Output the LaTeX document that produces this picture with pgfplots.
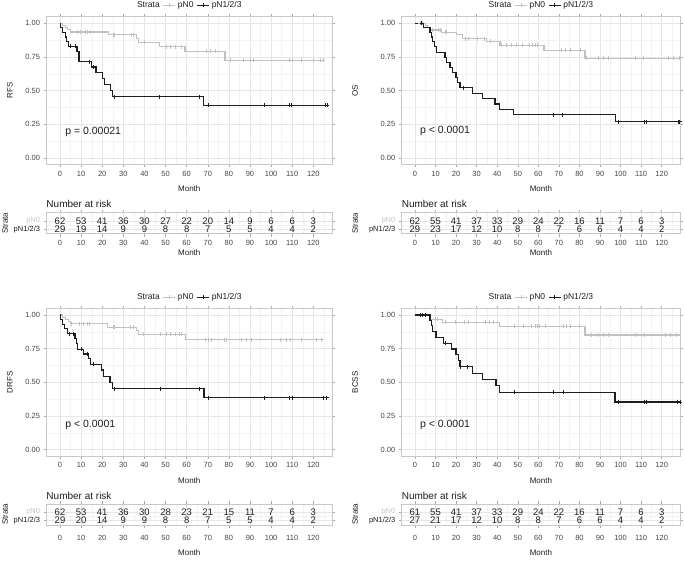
\documentclass[border=0pt]{standalone}
\usepackage{fontspec}
\setmainfont{Liberation Sans}
\usepackage{pgfplots}
\pgfplotsset{compat=1.18}

\definecolor{lg}{RGB}{193,193,193}
\definecolor{lgt}{RGB}{200,200,200}
\definecolor{dk}{RGB}{30,30,30}
\definecolor{frm}{RGB}{200,200,200}
\definecolor{tkc}{RGB}{170,170,170}
\definecolor{tkt}{RGB}{70,70,70}
\definecolor{gmaj}{RGB}{230,230,230}
\definecolor{gmin}{RGB}{243,243,243}

\newcommand\tickf{\fontsize{7.5}{9}\selectfont}
\newcommand\labf{\fontsize{8}{9.6}\selectfont}
\newcommand\legf{\fontsize{8.5}{10}\selectfont}
\newcommand\tabf{\fontsize{9.5}{11}\selectfont}
\newcommand\pf{\fontsize{10.5}{12}\selectfont}

\pgfplotsset{
  base/.style={
    scale only axis, xmin=-6.5, xmax=129, clip=false,
    axis line style={draw=frm, line width=0.6pt},
    tick style={draw=tkc, line width=0.5pt},
    tick align=outside, major tick length=2.75pt, minor tick length=0pt,
    xtick={0,10,...,120},
    xticklabels={0,10,20,30,40,50,60,70,80,90,100,110,120},
    minor xtick={5,15,...,125},
    grid=both,
    major grid style={draw=gmaj, line width=0.5pt},
    minor grid style={draw=gmin, line width=0.3pt},
    ticklabel style={font=\tickf, text=tkt},
    /pgf/number format/assume math mode=true,
    xlabel=Month,
    xlabel style={font=\labf, text=dk, at={(axis description cs:0.5,0)}, anchor=center},
    ylabel style={font=\labf, text=dk, anchor=center},
  },
  km/.style={base, height=148pt,
    ymin=-0.05, ymax=1.05,
    ytick={0,0.25,0.5,0.75,1}, yticklabels={0.00,0.25,0.50,0.75,1.00},
    minor ytick={0.125,0.375,0.625,0.875},
    xlabel style={yshift=-24.5pt},
    legend style={draw=none, fill=none, at={(0.5,1)}, anchor=south, yshift=5pt,
      legend columns=-1, font=\legf, text=dk, inner sep=0pt,
      /tikz/every even column/.append style={column sep=1pt}},
    legend image code/.code={\draw[mark repeat=2,mark phase=2,##1]
      plot coordinates {(0pt,0pt) (6pt,0pt) (12pt,0pt)};},
  },
  rt/.style={base, height=21pt,
    ymin=0.45, ymax=3.0, ytick={1,2}, minor ytick={1.5},
    yticklabels={\textcolor{dk}{pN1/2/3},\textcolor{lgt}{pN0}},
    xlabel style={yshift=-18.5pt},
    ylabel=Strata,
    every axis title shift=0pt,
    title=Number at risk,
    title style={at={(axis description cs:0,1)}, anchor=base west, inner sep=0pt,
      yshift=4.8pt, font=\fontsize{10}{12}\selectfont, text=dk},
  },
  % shifts add up with those of rt
  rtlow/.style={xticklabel style={yshift=-4pt}, xlabel style={yshift=-9.5pt}},
  lgl/.style={draw=lg, line width=1.2pt},
  dkl/.style={draw=dk, line width=1.2pt},
  cen/.style={only marks, mark=+, mark size=2pt, mark options={line width=0.8pt}},
  num/.style={draw=none, forget plot, nodes near coords, point meta=explicit symbolic,
    every node near coord/.append style={anchor=center, font=\tabf, text=dk, inner sep=0pt}},
}

\begin{document}
\begin{tikzpicture}
\path[use as bounding box] (0,0) rectangle (685pt,-561pt);

% ---------------- RFS ----------------
\begin{axis}[km, at={(46.3pt,-16.5pt)}, anchor=north west, width=286pt,
  ylabel=RFS, ylabel style={at={(axis description cs:-0.127,0.5)}}]
\addlegendimage{empty legend}
\addlegendimage{lgl, mark=+, mark size=2pt, mark options={line width=0.8pt}}
\addlegendimage{dkl, mark=+, mark size=2pt, mark options={line width=0.8pt}}
\legend{Strata,pN0,pN1/2/3}
\addplot[lgl, const plot, forget plot] coordinates {(0,1) (1,0.984) (2.5,0.968) (3.5,0.952) (5,0.935) (22.9,0.914) (36.3,0.888) (37.1,0.858) (47,0.826) (59.2,0.79) (78.2,0.725) (125,0.725)};
\addplot[lgl, cen, forget plot] coordinates {(8,0.935) (9.5,0.935) (11.8,0.935) (12.9,0.935) (14.2,0.935) (25.3,0.914) (26,0.914) (33.9,0.914) (35,0.914) (40,0.858) (50.5,0.826) (52.4,0.826) (54.5,0.826) (57.7,0.826) (69.5,0.79) (71.4,0.79) (73.4,0.79) (80.5,0.725) (86.9,0.725) (90,0.725) (91.6,0.725) (108.9,0.725) (110.2,0.725) (114.5,0.725) (120,0.725) (123.2,0.725) (124.7,0.725)};
\addplot[dkl, const plot, forget plot] coordinates {(0,1) (0.4,0.966) (1,0.931) (2.5,0.897) (3,0.862) (4,0.828) (8,0.79) (9,0.715) (15,0.675) (17,0.634) (20,0.591) (21,0.545) (24,0.5) (25,0.454) (68,0.389) (127.5,0.389)};
\addplot[dkl, cen, forget plot] coordinates {(5,0.828) (7.5,0.828) (14,0.715) (16,0.675) (25.6,0.454) (47.2,0.454) (65.8,0.454) (70.3,0.389) (96.8,0.389) (108.6,0.389) (109.7,0.389) (125.5,0.389) (126.5,0.389)};
\node[font=\pf, text=dk, anchor=west, inner sep=0pt] at (axis cs:2.4,0.19) {p = 0.00021};
\end{axis}

\begin{axis}[rt, at={(46.3pt,-212.8pt)}, anchor=north west, width=286pt,
  ylabel style={at={(axis description cs:-0.144,0.5)}}]
\addplot[num] coordinates {(0,2)[62] (10,2)[53] (20,2)[41] (30,2)[36] (40,2)[30] (50,2)[27] (60,2)[22] (70,2)[20] (80,2)[14] (90,2)[9] (100,2)[6] (110,2)[6] (120,2)[3]};
\addplot[num] coordinates {(0,1)[29] (10,1)[19] (20,1)[14] (30,1)[9] (40,1)[9] (50,1)[8] (60,1)[8] (70,1)[7] (80,1)[5] (90,1)[5] (100,1)[4] (110,1)[4] (120,1)[2]};
\end{axis}

% ---------------- OS ----------------
\begin{axis}[km, at={(401.6pt,-16.5pt)}, anchor=north west, width=278.6pt,
  ylabel=OS, ylabel style={at={(axis description cs:-0.167,0.5)}}]
\addlegendimage{empty legend}
\addlegendimage{lgl, mark=+, mark size=2pt, mark options={line width=0.8pt}}
\addlegendimage{dkl, mark=+, mark size=2pt, mark options={line width=0.8pt}}
\legend{Strata,pN0,pN1/2/3}
\addplot[lgl, const plot, forget plot] coordinates {(0,1) (5,0.984) (6,0.967) (7.3,0.95) (13,0.934) (20.3,0.918) (23.2,0.886) (34.9,0.866) (41.4,0.837) (62.8,0.80) (82.7,0.74) (129,0.74)};
\addplot[lgl, cen, forget plot] coordinates {(2.4,1) (3.7,1) (8.6,0.95) (11.4,0.95) (12.2,0.95) (15,0.934) (15.5,0.934) (24.3,0.886) (26,0.886) (30.3,0.886) (33.6,0.886) (36.8,0.866) (42.2,0.837) (44.6,0.837) (47,0.837) (49.4,0.837) (52.4,0.837) (55.6,0.837) (57.3,0.837) (58.4,0.837) (59.5,0.837) (71.4,0.80) (73,0.80) (75.4,0.80) (80.3,0.80) (83.5,0.74) (89.2,0.74) (91.6,0.74) (94,0.74) (107,0.74) (111,0.74) (123.2,0.74) (125.7,0.74) (128.6,0.74)};
\addplot[dkl, const plot, forget plot] coordinates {(0,1) (4.2,0.966) (7.3,0.931) (8.1,0.897) (8.6,0.862) (9.4,0.828) (10.5,0.782) (14.6,0.745) (15.4,0.708) (17,0.671) (18.2,0.634) (20,0.596) (20.8,0.558) (21.9,0.52) (27.9,0.48) (32.8,0.44) (38.9,0.40) (41.3,0.36) (47.8,0.32) (97.5,0.267) (129,0.267)};
\addplot[dkl, cen, forget plot] coordinates {(3.2,1) (23.5,0.52) (67.3,0.32) (71.8,0.32) (99,0.267) (111.4,0.267) (112.4,0.267) (128,0.267) (128.8,0.267)};
\node[font=\pf, text=dk, anchor=west, inner sep=0pt] at (axis cs:2.4,0.2) {p < 0.0001};
\end{axis}

\begin{axis}[rt, at={(401.6pt,-212.8pt)}, anchor=north west, width=278.6pt,
  ylabel style={at={(axis description cs:-0.167,0.5)}}]
\addplot[num] coordinates {(0,2)[62] (10,2)[55] (20,2)[41] (30,2)[37] (40,2)[33] (50,2)[29] (60,2)[24] (70,2)[22] (80,2)[16] (90,2)[11] (100,2)[7] (110,2)[6] (120,2)[3]};
\addplot[num] coordinates {(0,1)[29] (10,1)[23] (20,1)[17] (30,1)[12] (40,1)[10] (50,1)[8] (60,1)[8] (70,1)[7] (80,1)[6] (90,1)[6] (100,1)[4] (110,1)[4] (120,1)[2]};
\end{axis}

% ---------------- DRFS ----------------
\begin{axis}[km, at={(46.3pt,-308.3pt)}, anchor=north west, width=286pt,
  ylabel=DRFS, ylabel style={at={(axis description cs:-0.127,0.5)}}]
\addlegendimage{empty legend}
\addlegendimage{lgl, mark=+, mark size=2pt, mark options={line width=0.8pt}}
\addlegendimage{dkl, mark=+, mark size=2pt, mark options={line width=0.8pt}}
\legend{Strata,pN0,pN1/2/3}
\addplot[lgl, const plot, forget plot] coordinates {(0,1) (1,0.984) (2.5,0.968) (4,0.952) (5,0.936) (22.4,0.91) (36.3,0.883) (37.1,0.858) (59.5,0.817) (125,0.817)};
\addplot[lgl, cen, forget plot] coordinates {(5.5,0.936) (9.1,0.936) (11,0.936) (12.9,0.936) (13.9,0.936) (25.3,0.91) (26,0.91) (33.2,0.91) (34.7,0.91) (39.5,0.858) (47.4,0.858) (50.5,0.858) (52.4,0.858) (54.5,0.858) (56.6,0.858) (57.7,0.858) (68.7,0.817) (70.3,0.817) (71.8,0.817) (77.7,0.817) (78.9,0.817) (86,0.817) (88.4,0.817) (90.8,0.817) (104.2,0.817) (107.4,0.817) (109,0.817) (114.5,0.817) (121.6,0.817) (124,0.817)};
\addplot[dkl, const plot, forget plot] coordinates {(0,1) (0.4,0.966) (1,0.931) (2,0.897) (3.5,0.862) (7.1,0.828) (7.8,0.79) (8.2,0.746) (11.3,0.71) (13.4,0.675) (14.5,0.634) (19.7,0.591) (20.5,0.545) (23.7,0.5) (25,0.452) (68.2,0.386) (127.5,0.386)};
\addplot[dkl, cen, forget plot] coordinates {(4.4,0.862) (6.3,0.862) (10.3,0.746) (12.9,0.71) (15.8,0.634) (25.6,0.452) (47.4,0.452) (66,0.452) (70.3,0.386) (96.8,0.386) (108.6,0.386) (110.2,0.386) (124.7,0.386) (126,0.386)};
\node[font=\pf, text=dk, anchor=west, inner sep=0pt] at (axis cs:2.4,0.185) {p < 0.0001};
\end{axis}

\begin{axis}[rt, rtlow, at={(46.3pt,-503.8pt)}, anchor=north west, width=286pt,
  ylabel style={at={(axis description cs:-0.144,0.5)}}]
\addplot[num] coordinates {(0,2)[62] (10,2)[53] (20,2)[41] (30,2)[36] (40,2)[30] (50,2)[28] (60,2)[23] (70,2)[21] (80,2)[15] (90,2)[11] (100,2)[7] (110,2)[6] (120,2)[3]};
\addplot[num] coordinates {(0,1)[29] (10,1)[20] (20,1)[14] (30,1)[9] (40,1)[9] (50,1)[8] (60,1)[8] (70,1)[7] (80,1)[5] (90,1)[5] (100,1)[4] (110,1)[4] (120,1)[2]};
\end{axis}

% ---------------- BCSS ----------------
\begin{axis}[km, at={(401.6pt,-308.3pt)}, anchor=north west, width=278.6pt,
  ylabel=BCSS, ylabel style={at={(axis description cs:-0.167,0.5)}}]
\addlegendimage{empty legend}
\addlegendimage{lgl, mark=+, mark size=2pt, mark options={line width=0.8pt}}
\addlegendimage{dkl, mark=+, mark size=2pt, mark options={line width=0.8pt}}
\legend{Strata,pN0,pN1/2/3}
\addplot[lgl, const plot, forget plot] coordinates {(0,1) (7.3,0.968) (13.5,0.946) (41.3,0.916) (82.7,0.852) (129,0.852)};
\addplot[lgl, cen, forget plot] coordinates {(2.4,1) (3.7,1) (9.7,0.968) (10.9,0.968) (14.6,0.946) (19.5,0.946) (23.8,0.946) (26,0.946) (34.1,0.946) (36,0.946) (38.1,0.946) (48.2,0.916) (52.7,0.916) (56.8,0.916) (58.4,0.916) (59.5,0.916) (60.5,0.916) (63.2,0.916) (72.2,0.916) (73.8,0.916) (75.4,0.916) (79.9,0.916) (85.9,0.852) (89.2,0.852) (91.6,0.852) (94,0.852) (107,0.852) (111.4,0.852) (121.6,0.852) (124,0.852) (127.3,0.852)};
\addplot[dkl, const plot, forget plot] coordinates {(0,1) (7.3,0.96) (8.1,0.92) (8.6,0.877) (10.2,0.835) (13.8,0.79) (17.8,0.748) (20,0.705) (21,0.66) (21.9,0.617) (28.1,0.568) (32.9,0.523) (39.4,0.475) (41.3,0.425) (97.3,0.353) (129,0.353)};
\addplot[dkl, cen, forget plot] coordinates {(2.4,1) (3.7,1) (4.9,1) (14.8,0.79) (22.2,0.617) (25.3,0.617) (48.2,0.425) (67.3,0.425) (72.2,0.425) (98.9,0.353) (111.4,0.353) (112.4,0.353) (127.8,0.353) (128.9,0.353)};
\node[font=\pf, text=dk, anchor=west, inner sep=0pt] at (axis cs:2.4,0.185) {p < 0.0001};
\end{axis}

\begin{axis}[rt, rtlow, at={(401.6pt,-503.8pt)}, anchor=north west, width=278.6pt,
  ylabel style={at={(axis description cs:-0.167,0.5)}}]
\addplot[num] coordinates {(0,2)[61] (10,2)[55] (20,2)[41] (30,2)[37] (40,2)[33] (50,2)[29] (60,2)[24] (70,2)[22] (80,2)[16] (90,2)[11] (100,2)[7] (110,2)[6] (120,2)[3]};
\addplot[num] coordinates {(0,1)[27] (10,1)[21] (20,1)[17] (30,1)[12] (40,1)[10] (50,1)[8] (60,1)[8] (70,1)[7] (80,1)[6] (90,1)[6] (100,1)[4] (110,1)[4] (120,1)[2]};
\end{axis}
\end{tikzpicture}
\end{document}
